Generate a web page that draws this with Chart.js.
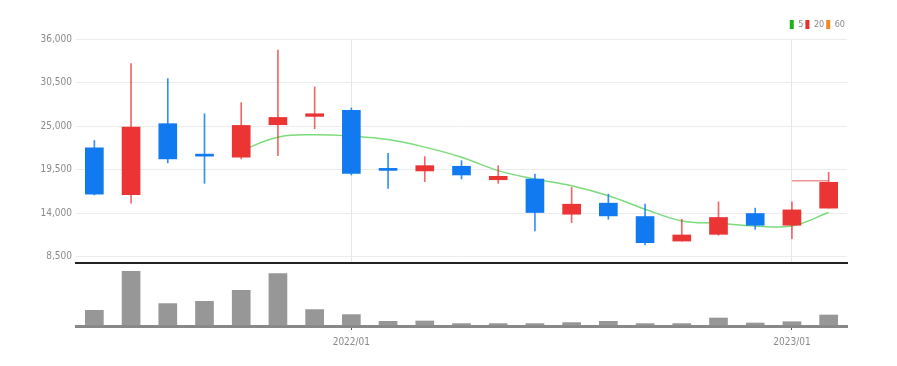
<!DOCTYPE html>
<html>
<head>
<meta charset="utf-8">
<script src="https://cdn.jsdelivr.net/npm/chart.js@4"></script>
<style>
  body { margin: 0; background: #fff; }
  #wrap { position: relative; width: 897px; height: 366px; }
  #priceBox { position: absolute; left: 0; top: 0; width: 897px; height: 273px; }
  #volBox { position: absolute; left: 0; top: 262px; width: 897px; height: 104px; }
</style>
</head>
<body>
<div id="wrap">
  <div id="priceBox"><canvas id="price"></canvas></div>
  <div id="volBox"><canvas id="vol"></canvas></div>
</div>
<script>
// monthly candles
const months = ['2021/06', '2021/07', '2021/08', '2021/09', '2021/10', '2021/11', '2021/12',
    '2022/01', '2022/02', '2022/03', '2022/04', '2022/05', '2022/06', '2022/07', '2022/08',
    '2022/09', '2022/10', '2022/11', '2022/12', '2023/01', '2023/02'];
const openP = [22250, 16320, 25300, 21300, 21070, 25170, 26220, 26980, 19500, 19330, 19920,
    18220, 18310, 13860, 15260, 13570, 10470, 11320, 13950, 12470, 14630];
const closeP = [16400, 24880, 20850, 21200, 25080, 26090, 26560, 19030, 19400, 20000, 18820,
    18650, 14080, 15130, 13650, 10270, 11240, 13450, 12470, 14410, 17890];
const highP = [23170, 32900, 31000, 26560, 27960, 34600, 29950, 27290, 21570, 21140, 20630,
    20000, 18940, 17250, 16400, 15130, 13230, 15430, 14630, 15430, 19160];
const lowP = [16300, 15260, 20340, 17760, 20850, 21270, 24660, 18820, 17130, 17970, 18310,
    17760, 11740, 12810, 13230, 9970, 10470, 11200, 11960, 10780, 14630];
const volume = [1570000, 5470000, 2240000, 2470000, 3570000, 5240000, 1640000, 1140000, 470000,
    500000, 240000, 240000, 240000, 340000, 470000, 240000, 240000, 800000, 300000, 430000, 1100000];
const ma5 = [null, null, null, null, 21900, 23600, 23900, 23730, 23300, 22340, 21070, 19370,
    18310, 17460, 16190, 14500, 13010, 12720, 12380, 12380, 14080];
const ma20 = [null, null, null, null, null, null, null, null, null, null, null, null, null, null,
    null, null, null, null, null, 18100, 18080];
const ma60 = months.map(() => null);
const priceTicks = [8500, 14000, 19500, 25000, 30500, 36000];
const labelMonths = ['2022/01', '2023/01'];

const FONT = "'Liberation Sans Narrow', 'Arial Narrow', 'DejaVu Sans Condensed', 'Liberation Sans', Arial, sans-serif";
const RED = 'rgb(235, 52, 52)';
const BLUE = 'rgb(18, 122, 240)';
const isUp = i => closeP[i] >= openP[i];

new Chart(document.getElementById('price'), {
    type: 'bar',
    data: {
        labels: months,
        datasets: [
            {
                type: 'line', label: '5', data: ma5, borderColor: 'rgba(110, 215, 110, 0.9)',
                backgroundColor: '#1db21d', borderWidth: 1.5, pointRadius: 0, tension: 0.4, order: 10
            },
            {
                type: 'line', label: '20', data: ma20, borderColor: 'rgba(240, 120, 120, 0.8)',
                backgroundColor: '#ee2c2c', borderWidth: 1.5, pointRadius: 0, tension: 0.4, order: 10
            },
            {
                type: 'line', label: '60', data: ma60, borderColor: '#f28a1c',
                backgroundColor: '#f28a1c', borderWidth: 1.5, pointRadius: 0, order: 10
            },
            {
                label: 'wick', data: lowP.map((l, i) => [l, highP[i]]),
                backgroundColor: months.map((m, i) => isUp(i) ? 'rgba(235, 52, 52, 0.75)' : 'rgba(18, 122, 240, 0.85)'),
                barThickness: 1, grouped: false, order: 5
            },
            {
                label: 'body', data: openP.map((o, i) => [o, closeP[i]]),
                backgroundColor: months.map((m, i) => isUp(i) ? RED : BLUE),
                barThickness: 18, minBarLength: 2, grouped: false, order: 1
            }
        ]
    },
    options: {
        responsive: true,
        maintainAspectRatio: false,
        animation: false,
        layout: { padding: { left: 0, right: 50, top: 18, bottom: 0 } },
        scales: {
            x: {
                ticks: { display: false },
                grid: {
                    offset: false,
                    drawTicks: false,
                    color: ctx => labelMonths.includes(months[ctx.index]) ? '#e6e6e6' : 'rgba(0,0,0,0)'
                },
                border: { color: '#222', width: 2 }
            },
            y: {
                min: 7700,
                max: 36000,
                afterFit: scale => { scale.width = 76; },
                afterBuildTicks: scale => { scale.ticks = priceTicks.map(v => ({ value: v })); },
                ticks: {
                    color: '#8a8a8a',
                    font: { family: FONT, size: 10 },
                    padding: 4,
                    callback: v => v.toLocaleString('en-US')
                },
                grid: { color: '#ececec', drawTicks: false },
                border: { display: false }
            }
        },
        plugins: {
            legend: {
                position: 'top',
                align: 'end',
                labels: {
                    boxWidth: 4,
                    boxHeight: 9,
                    padding: 2,
                    color: '#8a8a8a',
                    font: { family: FONT, size: 9 },
                    filter: item => ['5', '20', '60'].includes(item.text),
                    generateLabels: chart => chart.data.datasets.map((ds, i) => ({
                        text: ds.label, fillStyle: ds.backgroundColor, strokeStyle: ds.backgroundColor,
                        lineWidth: 0, fontColor: '#8a8a8a', datasetIndex: i
                    }))
                }
            },
            tooltip: { enabled: false }
        }
    }
});

new Chart(document.getElementById('vol'), {
    type: 'bar',
    data: {
        labels: months,
        datasets: [{
            label: 'volume', data: volume, backgroundColor: 'rgba(140, 140, 140, 0.9)',
            barThickness: 18
        }]
    },
    options: {
        responsive: true,
        maintainAspectRatio: false,
        animation: false,
        layout: { padding: { left: 76, right: 50, top: 3, bottom: 12 } },
        scales: {
            x: {
                ticks: {
                    autoSkip: false,
                    maxRotation: 0,
                    color: '#8a8a8a',
                    padding: 6,
                    font: { family: FONT, size: 10 },
                    callback: (v, i) => labelMonths.includes(months[i]) ? months[i] : ''
                },
                grid: {
                    offset: false,
                    drawOnChartArea: false,
                    tickLength: 4,
                    tickColor: ctx => labelMonths.includes(months[ctx.index]) ? '#555' : 'rgba(0,0,0,0)'
                },
                border: { color: '#888', width: 3 }
            },
            y: { display: false, min: 0, max: 6100000 }
        },
        plugins: { legend: { display: false }, tooltip: { enabled: false } }
    }
});
</script>
</body>
</html>
